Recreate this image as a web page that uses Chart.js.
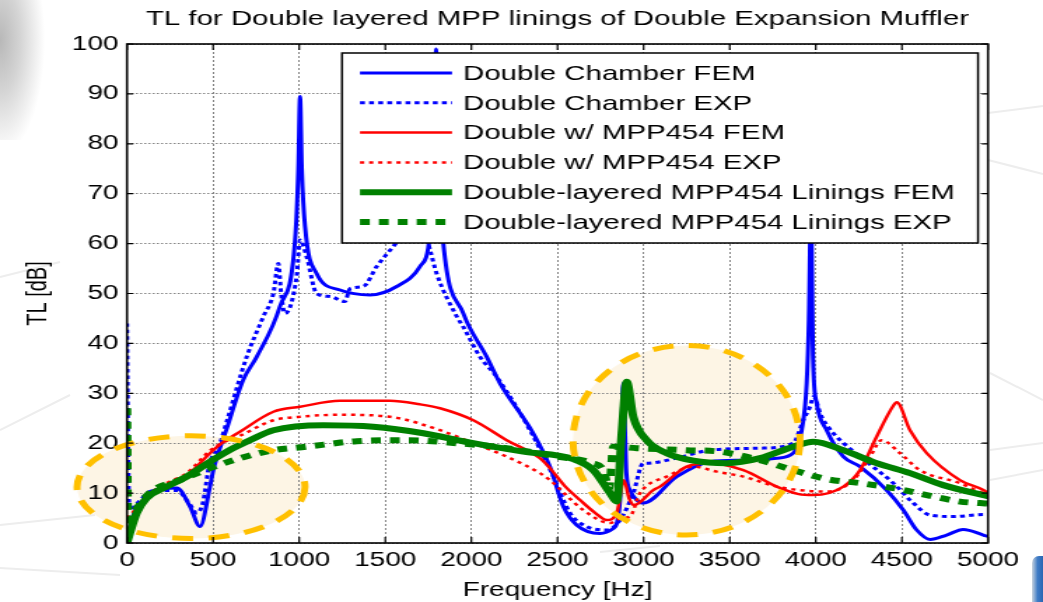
<!DOCTYPE html>
<html>
<head>
<meta charset="utf-8">
<script src="https://cdn.jsdelivr.net/npm/chart.js@4/dist/chart.umd.min.js"></script>
<style>
  html, body { margin: 0; padding: 0; background: #fff; }
  #wrap { position: relative; width: 1043px; height: 602px; overflow: hidden; background: #fff; }
  #corner { position: absolute; left: 0; top: 0; width: 50px; height: 140px;
    background: radial-gradient(ellipse 45px 115px at 0 40px, #b8b8b8 0%, #d4d4d4 45%, rgba(255,255,255,0) 100%); }
  #tab { position: absolute; left: 1032px; top: 556px; width: 14px; height: 50px; border-radius: 7px 0 0 0;
    background: linear-gradient(to right, #c9d3de, #3f7cc6 40%, #1f5aa8); }
  #deco { position: absolute; left: 0; top: 0; }
  #chart { position: absolute; left: 0; top: 0; }
</style>
</head>
<body>
<div id="wrap">
  <svg id="deco" width="1043" height="602">
    <g stroke="#ededed" stroke-width="2" fill="none">
      <line x1="988" y1="113" x2="1043" y2="106"/>
      <line x1="988" y1="160" x2="1043" y2="174"/>
      <line x1="990" y1="373" x2="1043" y2="400"/>
      <line x1="990" y1="450" x2="1043" y2="443"/>
      <line x1="990" y1="480" x2="1043" y2="470"/>
      <line x1="0" y1="277" x2="60" y2="262"/>
      <line x1="0" y1="430" x2="70" y2="395"/>
      <line x1="0" y1="525" x2="95" y2="515"/>
      <line x1="0" y1="568" x2="120" y2="575"/>
      <line x1="600" y1="552" x2="660" y2="546"/>
    </g>
  </svg>
  <div id="corner"></div>
  <div id="tab"></div>
  <canvas id="chart"></canvas>
</div>
<script>
// Double Chamber FEM
const chamberFemHz = [0, 30, 80, 150, 290, 366, 424, 482, 501, 580, 675, 753, 888, 976, 995, 1005, 1015, 1034, 1101, 1237, 1411, 1566, 1701, 1760, 1785, 1795, 1810, 1837, 1953, 2089, 2166, 2359, 2456, 2534, 2611, 2747, 2824, 2863, 2882, 2900, 2921, 2960, 2998, 3192, 3385, 3579, 3773, 3869, 3918, 3947, 3960, 3972, 3984, 4005, 4063, 4160, 4257, 4411, 4508, 4586, 4663, 4760, 4856, 4973, 5000];
const chamberFemTL = [0, 5, 8, 10.5, 11, 7.3, 3.3, 11.3, 14.6, 23, 32.7, 37.3, 47.4, 60.7, 75, 89.5, 75, 63.4, 54, 50.7, 49.7, 51.4, 55.4, 62, 80, 99, 75, 60, 46, 37.3, 32, 22, 15.3, 7.3, 3.6, 1.9, 2.9, 8.6, 32, 14, 10.6, 8.6, 8, 13.3, 16.3, 16.6, 17, 18, 22.6, 32, 45, 68, 37, 28, 22.6, 17.3, 15.3, 10.6, 6.6, 2.6, 0.7, 1.6, 2.7, 1.6, 1.3];

// Double Chamber EXP
const chamberExpHz = [0, 10, 17, 60, 150, 290, 360, 405, 440, 480, 530, 585, 695, 792, 850, 879, 895, 917, 985, 1005, 1043, 1101, 1179, 1266, 1295, 1372, 1450, 1546, 1640, 1740, 1760, 1798, 1915, 1953, 2050, 2147, 2340, 2476, 2573, 2669, 2786, 2863, 2940, 2998, 3018, 3192, 3385, 3676, 3869, 3927, 3966, 3986, 4034, 4102, 4257, 4450, 4566, 4663, 4799, 4973, 5000];
const chamberExpTL = [44, 10, 6.6, 8, 10.5, 10.5, 8, 6, 8, 16, 19, 25, 37.3, 45.4, 50, 56, 50, 46, 53.4, 60.7, 57.4, 50, 49.4, 48.4, 51, 51.4, 55.4, 59.4, 63, 61, 58.7, 54, 45.4, 43.3, 37.3, 33.3, 22.6, 13.3, 6, 3.3, 2.6, 4.6, 10, 16, 16, 17, 18.6, 19, 20, 24.6, 27.3, 29.3, 25.3, 22, 17.3, 12, 8, 5.6, 5.3, 5.7, 5.7];

// Double w/ MPP454 FEM
const mppFemHz = [0, 30, 80, 150, 230, 347, 482, 550, 656, 850, 1005, 1237, 1527, 1700, 1818, 2011, 2205, 2398, 2456, 2540, 2631, 2720, 2786, 2844, 2886, 2915, 2945, 3056, 3095, 3250, 3385, 3579, 3773, 3900, 3986, 4160, 4257, 4353, 4450, 4470, 4547, 4644, 4837, 4973, 5000];
const mppFemTL = [0, 4, 7, 10, 11.5, 13.5, 18, 20, 22.3, 26.3, 27.3, 28.5, 28.5, 27.8, 27, 24.6, 20.6, 17, 15, 11.5, 8.6, 6, 4.6, 6, 12.6, 9, 7.6, 10.6, 11.3, 15.3, 16, 14.6, 11.3, 9.8, 9.6, 11.3, 14.6, 21.3, 27.5, 28.2, 22.6, 18, 12.6, 10.6, 10];

// Double w/ MPP454 EXP
const mppExpHz = [0, 30, 80, 150, 230, 347, 482, 550, 656, 850, 1005, 1237, 1527, 1818, 2011, 2205, 2398, 2456, 2650, 2805, 2870, 2921, 2979, 3134, 3289, 3424, 3579, 3773, 3908, 4063, 4218, 4315, 4382, 4489, 4605, 4837, 4973, 5000];
const mppExpTL = [5, 6, 8, 10.3, 12, 14, 18.5, 20, 21.5, 24.6, 25.3, 25.7, 25.3, 22.6, 20, 17.3, 14, 12.6, 6.6, 4, 5, 5.3, 10, 13.3, 15.3, 14.3, 13.3, 11.3, 10.6, 10.3, 12.6, 17.3, 20.6, 18, 14.6, 12, 10, 9.8];

// Double-layered MPP454 Linings FEM
const layerFemHz = [0, 17, 56, 114, 230, 347, 482, 617, 714, 850, 1140, 1430, 1721, 2011, 2301, 2592, 2708, 2805, 2844, 2873, 2902, 2940, 3018, 3134, 3289, 3482, 3676, 3869, 3986, 4160, 4353, 4547, 4740, 4973, 5000];
const layerFemTL = [0, 2, 6, 9, 11.3, 13.3, 16.3, 19, 20.6, 22.6, 23.6, 23.3, 22, 20, 18.3, 16.8, 14.6, 10, 8.3, 22, 32.3, 25.3, 20.6, 18, 16.5, 16, 17, 19.3, 20.3, 18.6, 16, 14, 11.6, 9.6, 9.4];

// Double-layered MPP454 Linings EXP
const layerExpHz = [0, 6, 30, 80, 150, 300, 482, 656, 850, 1043, 1334, 1624, 1915, 2205, 2495, 2700, 2766, 2800, 2824, 2960, 3250, 3443, 3676, 3869, 4063, 4257, 4450, 4644, 4837, 4953, 5000];
const layerExpTL = [27, 2, 5, 8, 10.5, 12.5, 15, 17, 18.6, 19.3, 20.4, 20.6, 20, 19, 17.3, 16, 14.6, 11, 19.3, 19, 18.6, 18.3, 16.6, 14.6, 12.8, 12, 11, 9.6, 8.3, 8, 7.9];

const xTicks = [0, 500, 1000, 1500, 2000, 2500, 3000, 3500, 4000, 4500, 5000];
const yTicks = [0, 10, 20, 30, 40, 50, 60, 70, 80, 90, 100];

// highlighted regions (centre and half-axes in data units)
const ellipses = [
  { hz: 372, tl: 11.2, dHz: 662, dTL: 10.3 },
  { hz: 3249, tl: 20.6, dHz: 659, dTL: 19 }
];

// the picture is stretched sideways, so draw narrow and widen with css
const K = 1.4;
const CW = Math.round(1043 / K);
const FONT = '"Liberation Sans", Arial, sans-serif';

const pts = (hz, tl) => hz.map((f, i) => ({ x: f, y: tl[i] }));

function pathEllipse(chart, e) {
  const { x, y } = chart.scales;
  const cx = x.getPixelForValue(e.hz), cy = y.getPixelForValue(e.tl);
  const rx = x.getPixelForValue(e.hz + e.dHz) - cx;
  const ry = cy - y.getPixelForValue(e.tl + e.dTL);
  chart.ctx.beginPath();
  chart.ctx.ellipse(cx, cy, rx, ry, 0, 0, Math.PI * 2);
}

const frame = {
  id: 'frame',
  beforeDraw(chart) {
    const ctx = chart.ctx;
    ctx.save();
    ctx.fillStyle = '#fdf5e5';
    for (const e of ellipses) { pathEllipse(chart, e); ctx.fill(); }
    ctx.restore();
  },
  afterDatasetsDraw(chart) {
    const { ctx, chartArea: a, scales: { x, y } } = chart;
    ctx.save();
    ctx.strokeStyle = '#ffc000';
    ctx.lineWidth = 5;
    ctx.setLineDash([15, 11]);
    for (const e of ellipses) { pathEllipse(chart, e); ctx.stroke(); }
    ctx.restore();

    // axes box with matlab style inner ticks
    ctx.save();
    ctx.strokeStyle = '#000';
    ctx.lineWidth = 1.6;
    ctx.strokeRect(a.left, a.top, a.right - a.left, a.bottom - a.top);
    ctx.lineWidth = 1.2;
    ctx.beginPath();
    xTicks.forEach(v => {
      const px = x.getPixelForValue(v);
      ctx.moveTo(px, a.bottom); ctx.lineTo(px, a.bottom - 6);
      ctx.moveTo(px, a.top); ctx.lineTo(px, a.top + 6);
    });
    yTicks.forEach(v => {
      const py = y.getPixelForValue(v);
      ctx.moveTo(a.left, py); ctx.lineTo(a.left + 4.5, py);
      ctx.moveTo(a.right, py); ctx.lineTo(a.right - 4.5, py);
    });
    ctx.stroke();
    ctx.restore();

    // legend box
    const lx = 342 / K, rx = 978 / K, ty = 53, by = 243;
    ctx.save();
    ctx.fillStyle = '#fff';
    ctx.fillRect(lx, ty, rx - lx, by - ty);
    ctx.strokeStyle = '#000';
    ctx.lineWidth = 1.5;
    ctx.strokeRect(lx, ty, rx - lx, by - ty);
    ctx.font = '21px ' + FONT;
    ctx.textBaseline = 'middle';
    ctx.fillStyle = '#000';
    chart.data.datasets.forEach((ds, i) => {
      const cy = 73 + i * 29.8;
      ctx.save();
      ctx.strokeStyle = ds.borderColor;
      ctx.lineWidth = ds.borderWidth;
      ctx.setLineDash(ds.borderDash || []);
      ctx.beginPath();
      ctx.moveTo(360 / K, cy);
      ctx.lineTo(452 / K, cy);
      ctx.stroke();
      ctx.restore();
      ctx.fillText(ds.label, 463 / K, cy + 1);
    });
    ctx.restore();
  },
  afterDraw(chart) {
    const { ctx, chartArea: a } = chart;
    ctx.save();
    ctx.font = '21px ' + FONT;
    ctx.fillStyle = '#000';
    ctx.textAlign = 'center';
    ctx.textBaseline = 'middle';
    ctx.fillText('TL for Double layered MPP linings of Double Expansion Muffler', (a.left + a.right) / 2, 19);
    ctx.restore();
  }
};

const canvas = document.getElementById('chart');
canvas.width = CW;
canvas.height = 602;
canvas.style.width = '1043px';
canvas.style.height = '602px';

const tickFont = { family: FONT, size: 20 };
const gridOpts = { color: '#858585', lineWidth: 1, drawTicks: false };

new Chart(canvas.getContext('2d'), {
  type: 'line',
  data: {
    datasets: [
      { label: 'Double Chamber FEM', data: pts(chamberFemHz, chamberFemTL), borderColor: '#0000ff', borderWidth: 3, order: 5 },
      { label: 'Double Chamber EXP', data: pts(chamberExpHz, chamberExpTL), borderColor: '#0000ff', borderWidth: 3, borderDash: [3.5, 3], order: 4 },
      { label: 'Double w/ MPP454 FEM', data: pts(mppFemHz, mppFemTL), borderColor: '#ff0000', borderWidth: 2.5, order: 3 },
      { label: 'Double w/ MPP454 EXP', data: pts(mppExpHz, mppExpTL), borderColor: '#ff0000', borderWidth: 2.5, borderDash: [3, 3.5], order: 2 },
      { label: 'Double-layered MPP454 Linings FEM', data: pts(layerFemHz, layerFemTL), borderColor: '#008000', borderWidth: 6, order: 1 },
      { label: 'Double-layered MPP454 Linings EXP', data: pts(layerExpHz, layerExpTL), borderColor: '#008000', borderWidth: 6, borderDash: [7, 6.5], order: 0 }
    ]
  },
  options: {
    responsive: false,
    animation: false,
    parsing: false,
    layout: { padding: { top: 44, right: CW - 988 / K, left: 0, bottom: 0 } },
    elements: {
      point: { radius: 0 },
      line: { cubicInterpolationMode: 'monotone', borderJoinStyle: 'round', borderCapStyle: 'butt' }
    },
    plugins: { legend: { display: false }, title: { display: false }, tooltip: { enabled: false } },
    scales: {
      x: {
        type: 'linear', min: 0, max: 5000,
        afterFit: s => { s.height = 59; },
        afterBuildTicks: s => { s.ticks = xTicks.map(v => ({ value: v })); },
        ticks: { color: '#000', font: tickFont, padding: 5, maxRotation: 0, autoSkip: false, callback: v => String(v) },
        grid: gridOpts,
        border: { display: false, dash: [2, 2] },
        title: { display: true, text: 'Frequency [Hz]', color: '#000', font: { family: FONT, size: 20 }, padding: { top: 2, bottom: 0 } }
      },
      y: {
        type: 'linear', min: 0, max: 100,
        afterFit: s => { s.width = 127 / K; },
        afterBuildTicks: s => { s.ticks = yTicks.map(v => ({ value: v })); },
        ticks: { color: '#000', font: tickFont, padding: 6, callback: v => String(v) },
        grid: gridOpts,
        border: { display: false, dash: [1.5, 1.5] },
        title: { display: true, text: 'TL [dB]', color: '#000', font: { family: FONT, size: 20 }, padding: { top: 15, bottom: 0 } }
      }
    }
  },
  plugins: [frame]
});
</script>
</body>
</html>
